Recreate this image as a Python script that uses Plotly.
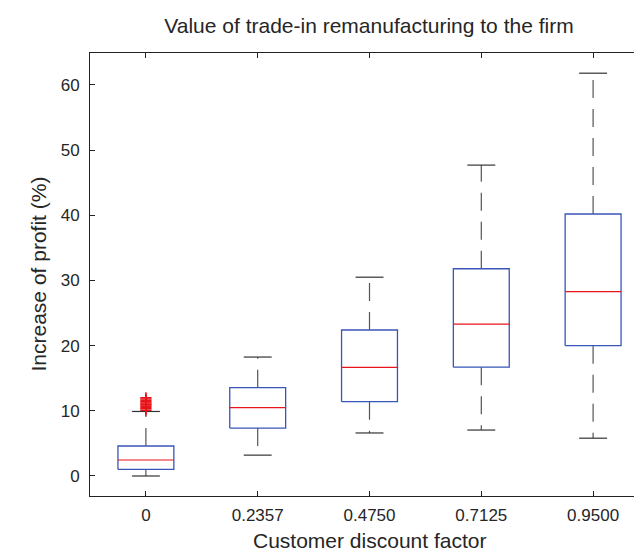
import plotly.graph_objects as go

# ---- data ----
categories = ["0", "0.2357", "0.4750", "0.7125", "0.9500"]
lower_whisker = [0.0, 3.2, 6.6, 7.05, 5.8]
q1 = [1.0, 7.35, 11.4, 16.7, 20.0]
median = [2.45, 10.5, 16.67, 23.3, 28.3]
q3 = [4.6, 13.55, 22.4, 31.8, 40.2]
upper_whisker = [9.9, 18.25, 30.5, 47.7, 61.8]
outliers_cat0 = [10.1, 10.3, 10.5, 10.7, 10.9, 11.0, 11.2, 11.4, 11.6, 11.8, 12.0]

y_ticks = [0, 10, 20, 30, 40, 50, 60]

BOX_HALF = 0.25
CAP_HALF = 0.125
FONT = "Liberation Sans, Arial, sans-serif"
TXT = "#262626"

fig = go.Figure()
pos = list(range(1, len(categories) + 1))

for i, c in enumerate(pos):
    # whiskers (dashed), drawn from box outwards
    fig.add_trace(go.Scatter(x=[c, c], y=[q3[i], upper_whisker[i]], mode="lines",
                             line=dict(color="#555555", width=1.2, dash="18px,11px"),
                             showlegend=False, hoverinfo="skip"))
    fig.add_trace(go.Scatter(x=[c, c], y=[q1[i], lower_whisker[i]], mode="lines",
                             line=dict(color="#555555", width=1.2, dash="18px,11px"),
                             showlegend=False, hoverinfo="skip"))
    # caps
    for v in (upper_whisker[i], lower_whisker[i]):
        fig.add_trace(go.Scatter(x=[c - CAP_HALF, c + CAP_HALF], y=[v, v], mode="lines",
                                 line=dict(color="#333333", width=1.2),
                                 showlegend=False, hoverinfo="skip"))
    # box
    fig.add_trace(go.Scatter(x=[c - BOX_HALF, c + BOX_HALF, c + BOX_HALF, c - BOX_HALF, c - BOX_HALF],
                             y=[q1[i], q1[i], q3[i], q3[i], q1[i]], mode="lines",
                             line=dict(color="#3A55B8", width=1.3),
                             showlegend=False, hoverinfo="skip"))
    # median
    fig.add_trace(go.Scatter(x=[c - BOX_HALF, c + BOX_HALF], y=[median[i], median[i]], mode="lines",
                             line=dict(color="#E8141B", width=1.2),
                             showlegend=False, hoverinfo="skip"))

# outliers
fig.add_trace(go.Scatter(x=[pos[0]] * len(outliers_cat0), y=outliers_cat0, mode="markers",
                         marker=dict(symbol="cross-thin-open", size=8, color="#E8141B",
                                     line=dict(color="#E8141B", width=1.5)),
                         showlegend=False, hoverinfo="skip"))

axis_common = dict(showline=True, linecolor="#222222", linewidth=1, mirror="ticks",
                   ticks="inside", ticklen=5, tickcolor="#222222", tickwidth=1,
                   showgrid=False, zeroline=False,
                   tickfont=dict(family=FONT, size=17, color=TXT))

fig.update_layout(
    width=642, height=550,
    margin=dict(l=82, r=1, t=45, b=62),
    paper_bgcolor="white", plot_bgcolor="white",
    xaxis=dict(range=[0.5, 5.5], tickmode="array", tickvals=pos, ticktext=categories,
               ticklabelstandoff=4, **axis_common),
    yaxis=dict(range=[-3.07, 64.9], tickmode="array", tickvals=y_ticks,
               ticktext=[str(t) for t in y_ticks], ticklabelstandoff=6, **axis_common),
    title=dict(text="Value of trade-in remanufacturing to the firm", x=361 / 642, xanchor="center",
               y=1 - 18 / 550, yanchor="middle", yref="container",
               font=dict(family=FONT, size=21, color=TXT)),
    annotations=[
        dict(text="Customer discount factor", xref="paper", yref="paper", x=(361 - 82) / 559,
             y=-(532 - 488) / 443,
             xanchor="center", yanchor="middle", showarrow=False,
             font=dict(family=FONT, size=21, color=TXT)),
        dict(text="Increase of profit (%)", xref="paper", yref="paper", x=-(82 - 30) / 559, y=0.5,
             xanchor="center", yanchor="middle", textangle=-90, showarrow=False,
             font=dict(family=FONT, size=21, color=TXT)),
    ],
)

fig.write_html("out.html")
